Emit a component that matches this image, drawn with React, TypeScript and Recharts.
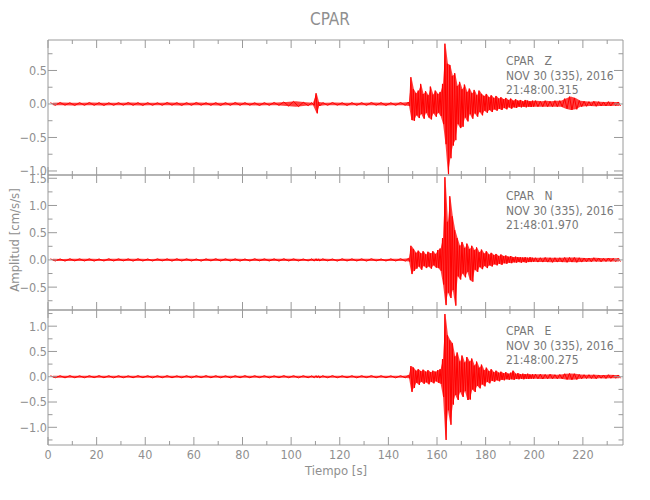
import React from "react";
import { ComposedChart, Area, Line, XAxis, YAxis } from "recharts";

// bin start times [s]: coarse before the P arrival, 1 s through the strong motion, 2 s in the coda
const TIME = [
  0, 4, 8, 12, 16, 20, 24, 28, 32, 36, 40, 44, 48, 52, 56, 60, 64, 68, 72, 76, 80, 84, 88, 92, 96, 100, 104,
  108, 110, 111, 112, 116, 120, 124, 128, 132, 136, 140, 144,
  148, 149, 150, 151, 152, 153, 154, 155, 156, 157, 158, 159, 160, 161, 162, 163, 164, 165, 166, 167, 168, 169,
  170, 171, 172, 173, 174, 175, 176, 177, 178, 179, 180, 181, 182, 183, 184, 185, 186, 187, 188, 189,
  190, 191, 192, 193, 194, 195, 196, 197, 198, 199,
  200, 202, 204, 206, 208, 210, 212, 214, 216, 218, 220, 222, 224, 226, 228, 230, 232, 234,
];
const END = 236;

// per-bin max / min amplitude [cm/s/s]
const Z_HI = [
  0.02, 0.022, 0.018, 0.02, 0.022, 0.02, 0.018, 0.02, 0.022, 0.02, 0.02, 0.018, 0.022, 0.02, 0.02, 0.022, 0.018, 0.02, 0.02, 0.022, 0.02, 0.018, 0.02, 0.022, 0.03, 0.04, 0.025,
  0.02, 0.16, 0.03, 0.02, 0.022, 0.018, 0.02, 0.02, 0.022, 0.02, 0.018, 0.022,
  0.03, 0.4, 0.22, 0.16, 0.2, 0.3, 0.15, 0.19, 0.13, 0.26, 0.14, 0.2, 0.15, 0.18, 0.3, 0.9, 0.6, 0.58, 0.42, 0.46, 0.27, 0.33,
  0.22, 0.29, 0.18, 0.23, 0.16, 0.21, 0.13, 0.2, 0.15, 0.12, 0.15, 0.1, 0.13, 0.09, 0.12, 0.08, 0.1, 0.07, 0.09, 0.06,
  0.08, 0.05, 0.07, 0.05, 0.06, 0.04, 0.06, 0.05, 0.04, 0.05,
  0.05, 0.04, 0.05, 0.04, 0.05, 0.05, 0.08, 0.11, 0.09, 0.05, 0.04, 0.035, 0.04, 0.035, 0.03, 0.035, 0.03, 0.03,
];
const Z_LO = [
  -0.02, -0.018, -0.022, -0.02, -0.02, -0.022, -0.02, -0.018, -0.02, -0.022, -0.02, -0.02, -0.018, -0.022, -0.02, -0.018, -0.02, -0.022, -0.02, -0.02, -0.018, -0.022, -0.02, -0.02, -0.03, -0.04, -0.025,
  -0.02, -0.14, -0.03, -0.02, -0.018, -0.022, -0.02, -0.02, -0.018, -0.022, -0.02, -0.02,
  -0.03, -0.24, -0.25, -0.17, -0.21, -0.15, -0.22, -0.13, -0.2, -0.23, -0.14, -0.19, -0.13, -0.18, -0.3, -0.6, -1.05, -0.81, -0.62, -0.54, -0.3, -0.36,
  -0.34, -0.2, -0.26, -0.15, -0.22, -0.14, -0.19, -0.12, -0.17, -0.1, -0.13, -0.09, -0.12, -0.08, -0.1, -0.07, -0.09, -0.06, -0.08, -0.05,
  -0.07, -0.05, -0.06, -0.04, -0.05, -0.04, -0.05, -0.04, -0.045, -0.04,
  -0.04, -0.04, -0.04, -0.04, -0.04, -0.04, -0.07, -0.09, -0.08, -0.04, -0.035, -0.03, -0.035, -0.03, -0.03, -0.03, -0.025, -0.03,
];

const N_HI = [
  0.02, 0.018, 0.022, 0.02, 0.02, 0.018, 0.022, 0.02, 0.02, 0.022, 0.018, 0.02, 0.02, 0.022, 0.02, 0.018, 0.02, 0.022, 0.02, 0.02, 0.018, 0.022, 0.02, 0.02, 0.022, 0.02, 0.018,
  0.02, 0.022, 0.02, 0.02, 0.018, 0.022, 0.02, 0.02, 0.022, 0.018, 0.02, 0.022,
  0.03, 0.26, 0.2, 0.13, 0.17, 0.12, 0.16, 0.1, 0.15, 0.12, 0.16, 0.11, 0.18, 0.21, 0.4, 1.52, 0.7, 1.17, 0.8, 0.55, 0.4, 0.26,
  0.33, 0.22, 0.3, 0.2, 0.26, 0.18, 0.23, 0.14, 0.19, 0.12, 0.16, 0.1, 0.13, 0.09, 0.11, 0.07, 0.1, 0.07, 0.08, 0.06,
  0.07, 0.05, 0.06, 0.05, 0.05, 0.045, 0.05, 0.04, 0.05, 0.04,
  0.04, 0.04, 0.045, 0.04, 0.04, 0.04, 0.045, 0.045, 0.045, 0.04, 0.035, 0.035, 0.04, 0.035, 0.03, 0.035, 0.03, 0.03,
];
const N_LO = [
  -0.02, -0.022, -0.018, -0.02, -0.022, -0.02, -0.02, -0.018, -0.022, -0.02, -0.02, -0.018, -0.022, -0.02, -0.02, -0.022, -0.018, -0.02, -0.02, -0.022, -0.02, -0.018, -0.02, -0.022, -0.02, -0.02, -0.018,
  -0.022, -0.02, -0.02, -0.018, -0.022, -0.02, -0.02, -0.022, -0.018, -0.02, -0.02, -0.022,
  -0.03, -0.26, -0.2, -0.16, -0.12, -0.18, -0.11, -0.15, -0.12, -0.16, -0.1, -0.14, -0.15, -0.2, -0.45, -0.83, -0.6, -0.7, -0.55, -0.84, -0.3, -0.36,
  -0.25, -0.32, -0.22, -0.37, -0.4, -0.18, -0.22, -0.13, -0.17, -0.11, -0.15, -0.1, -0.12, -0.08, -0.1, -0.07, -0.09, -0.06, -0.07, -0.05,
  -0.06, -0.045, -0.05, -0.04, -0.05, -0.04, -0.05, -0.04, -0.04, -0.035,
  -0.04, -0.04, -0.04, -0.045, -0.04, -0.04, -0.045, -0.04, -0.045, -0.04, -0.035, -0.035, -0.03, -0.035, -0.03, -0.03, -0.03, -0.03,
];

const E_HI = [
  0.02, 0.02, 0.022, 0.018, 0.02, 0.022, 0.02, 0.02, 0.018, 0.022, 0.02, 0.02, 0.022, 0.018, 0.02, 0.02, 0.022, 0.02, 0.018, 0.02, 0.022, 0.02, 0.02, 0.018, 0.022, 0.02, 0.02,
  0.018, 0.022, 0.02, 0.02, 0.022, 0.018, 0.02, 0.02, 0.022, 0.02, 0.018, 0.02,
  0.03, 0.21, 0.18, 0.12, 0.15, 0.11, 0.14, 0.1, 0.13, 0.09, 0.12, 0.1, 0.13, 0.15, 0.35, 1.24, 0.82, 0.72, 0.66, 0.4, 0.48, 0.3,
  0.42, 0.28, 0.39, 0.3, 0.36, 0.22, 0.3, 0.18, 0.24, 0.13, 0.18, 0.11, 0.15, 0.09, 0.12, 0.08, 0.1, 0.07, 0.09, 0.06,
  0.08, 0.12, 0.06, 0.07, 0.05, 0.06, 0.05, 0.06, 0.045, 0.05,
  0.05, 0.05, 0.045, 0.05, 0.04, 0.045, 0.06, 0.065, 0.06, 0.045, 0.04, 0.04, 0.04, 0.035, 0.035, 0.04, 0.035, 0.035,
];
const E_LO = [
  -0.02, -0.022, -0.02, -0.02, -0.018, -0.02, -0.022, -0.02, -0.02, -0.018, -0.022, -0.02, -0.02, -0.02, -0.022, -0.018, -0.02, -0.02, -0.022, -0.02, -0.02, -0.018, -0.022, -0.02, -0.02, -0.022, -0.02,
  -0.02, -0.018, -0.022, -0.02, -0.02, -0.02, -0.022, -0.018, -0.02, -0.02, -0.022, -0.02,
  -0.03, -0.3, -0.22, -0.12, -0.16, -0.1, -0.14, -0.11, -0.15, -0.1, -0.13, -0.09, -0.12, -0.14, -0.4, -1.25, -0.66, -0.95, -0.55, -0.36, -0.46, -0.3,
  -0.4, -0.28, -0.46, -0.45, -0.25, -0.3, -0.18, -0.23, -0.15, -0.19, -0.1, -0.13, -0.08, -0.1, -0.07, -0.09, -0.06, -0.07, -0.05, -0.06,
  -0.05, -0.06, -0.045, -0.05, -0.04, -0.05, -0.04, -0.045, -0.04, -0.04,
  -0.04, -0.045, -0.04, -0.04, -0.04, -0.04, -0.055, -0.06, -0.055, -0.04, -0.035, -0.035, -0.04, -0.03, -0.035, -0.03, -0.03, -0.03,
];

const X_TICKS = [0, 10, 20, 30, 40, 50, 60, 70, 80, 90, 100, 110, 120, 130, 140, 150, 160, 170, 180, 190, 200, 210, 220, 230];
const Z_TICKS = [0.75, 0.5, 0.25, 0, -0.25, -0.5, -0.75, -1];
const N_TICKS = [1.5, 1.25, 1, 0.75, 0.5, 0.25, 0, -0.25, -0.5, -0.75];
const E_TICKS = [1.25, 1, 0.75, 0.5, 0.25, 0, -0.25, -0.5, -0.75, -1, -1.25];

const STAMPS = ["21:48:00.315", "21:48:01.970", "21:48:00.275"];

const AXIS = "#9a9a9a";
const TEXT = "#8f8f8f";
const RED = "#ff0000";
const FONT = "'DejaVu Sans Condensed', 'Liberation Sans Narrow', sans-serif";
const PLOT_L = 48;
const PLOT_R = 623;

function buildSeries(hi: number[], lo: number[]) {
  const band: { t: number; r: number[] }[] = [];
  const trace: { t: number; v: number }[] = [];
  TIME.forEach((t, i) => {
    const w = (i + 1 < TIME.length ? TIME[i + 1] : END) - t;
    band.push({ t: t + w / 2, r: [lo[i], hi[i]] });
    trace.push({ t: t + w / 4, v: hi[i] });
    trace.push({ t: t + (3 * w) / 4, v: lo[i] });
  });
  return { band, trace };
}

const fmt = (v: number) => (v === 0 ? "0.0" : v.toFixed(1).replace("-", "\u2212"));

function xTick(edge: number, dir: number, labels: boolean) {
  return (p: any) => {
    const v = p.payload.value;
    const major = v % 20 === 0;
    return (
      <g>
        <line x1={p.x} x2={p.x} y1={edge} y2={edge + dir * (major ? 8 : 4)} stroke={AXIS} />
        {labels && major && (
          <text x={p.x} y={edge + 14} textAnchor="middle" fontSize={12.5} fill={TEXT} fontFamily={FONT}>
            {v}
          </text>
        )}
      </g>
    );
  };
}

function yTick(edge: number, dir: number, labels: boolean) {
  return (p: any) => {
    const v = p.payload.value;
    const major = Math.abs(v * 2 - Math.round(v * 2)) < 1e-6;
    return (
      <g>
        <line x1={edge} x2={edge + dir * (major ? 9 : 4.5)} y1={p.y} y2={p.y} stroke={AXIS} />
        {labels && major && (
          <text x={edge - 1} y={p.y} dy="0.35em" textAnchor="end" fontSize={12.5} fill={TEXT} fontFamily={FONT}>
            {fmt(v)}
          </text>
        )}
      </g>
    );
  };
}

type PanelProps = {
  hi: number[];
  lo: number[];
  domain: number[];
  ticks: number[];
  top: number;
  height: number;
  mTop: number;
  mBottom: number;
  xLabels: boolean;
};

// axes are 1px thick boxes, so margins are 1px short of the plot edges
function Panel({ hi, lo, domain, ticks, top, height, mTop, mBottom, xLabels }: PanelProps) {
  const { band, trace } = buildSeries(hi, lo);
  const plotBottom = height - mBottom;
  return (
    <div style={{ position: "absolute", left: 0, top }}>
      <ComposedChart width={650} height={height}
        margin={{ top: mTop - 1, right: 650 - PLOT_R - 1, bottom: mBottom - 1, left: PLOT_L - 1 }}>
        <XAxis xAxisId="b" orientation="bottom" type="number" dataKey="t" domain={[0, 236.5]} ticks={X_TICKS} interval={0}
          allowDataOverflow height={1} stroke={AXIS} tickLine={false} tick={xTick(plotBottom, -1, xLabels)} />
        <XAxis xAxisId="t" orientation="top" type="number" dataKey="t" domain={[0, 236.5]} ticks={X_TICKS} interval={0}
          allowDataOverflow height={1} stroke={AXIS} tickLine={false} tick={xTick(mTop, 1, false)} />
        <YAxis yAxisId="l" orientation="left" type="number" domain={domain} ticks={ticks} interval={0}
          allowDataOverflow width={1} stroke={AXIS} tickLine={false} tick={yTick(PLOT_L, 1, true)} />
        <YAxis yAxisId="r" orientation="right" type="number" domain={domain} ticks={ticks} interval={0}
          allowDataOverflow width={1} stroke={AXIS} tickLine={false} tick={yTick(PLOT_R, -1, false)} />
        <Area xAxisId="b" yAxisId="l" data={band} dataKey="r" type="linear" stroke="none" fill={RED}
          fillOpacity={0.75} isAnimationActive={false} />
        <Line xAxisId="b" yAxisId="l" data={trace} dataKey="v" type="linear" stroke={RED} strokeWidth={1}
          dot={false} isAnimationActive={false} />
      </ComposedChart>
    </div>
  );
}

export default function App() {
  const comps = ["Z", "N", "E"];
  return (
    <div style={{ position: "absolute", left: 0, top: 0, width: 650, height: 500, background: "#fff" }}>
      <Panel hi={Z_HI} lo={Z_LO} domain={[-1.06, 0.955]} ticks={Z_TICKS} top={0} height={185} mTop={40} mBottom={10} xLabels={false} />
      <Panel hi={N_HI} lo={N_LO} domain={[-0.92, 1.56]} ticks={N_TICKS} top={165} height={155} mTop={10} mBottom={10} xLabels={false} />
      <Panel hi={E_HI} lo={E_LO} domain={[-1.35, 1.32]} ticks={E_TICKS} top={300} height={200} mTop={10} mBottom={55} xLabels />
      <svg width={650} height={500} style={{ position: "absolute", left: 0, top: 0, pointerEvents: "none" }} fontFamily={FONT}>
        <text x={330} y={25} textAnchor="middle" fontSize={17} fill={TEXT}>CPAR</text>
        <text transform="translate(18.5,240) rotate(-90)" textAnchor="middle" fontSize={13} fill={TEXT}>Amplitud [cm/s/s]</text>
        <text x={336} y={475} textAnchor="middle" fontSize={13} fill={TEXT}>Tiempo [s]</text>
        {comps.map((c, i) => {
          const y0 = 40 + i * 135;
          return (
            <g key={c} fontSize={12} fill="#777">
              <text x={506} y={y0 + 25} style={{ whiteSpace: "pre" }}>{"CPAR   " + c}</text>
              <text x={506} y={y0 + 40}>NOV 30 (335), 2016</text>
              <text x={506} y={y0 + 54}>{STAMPS[i]}</text>
            </g>
          );
        })}
      </svg>
    </div>
  );
}
